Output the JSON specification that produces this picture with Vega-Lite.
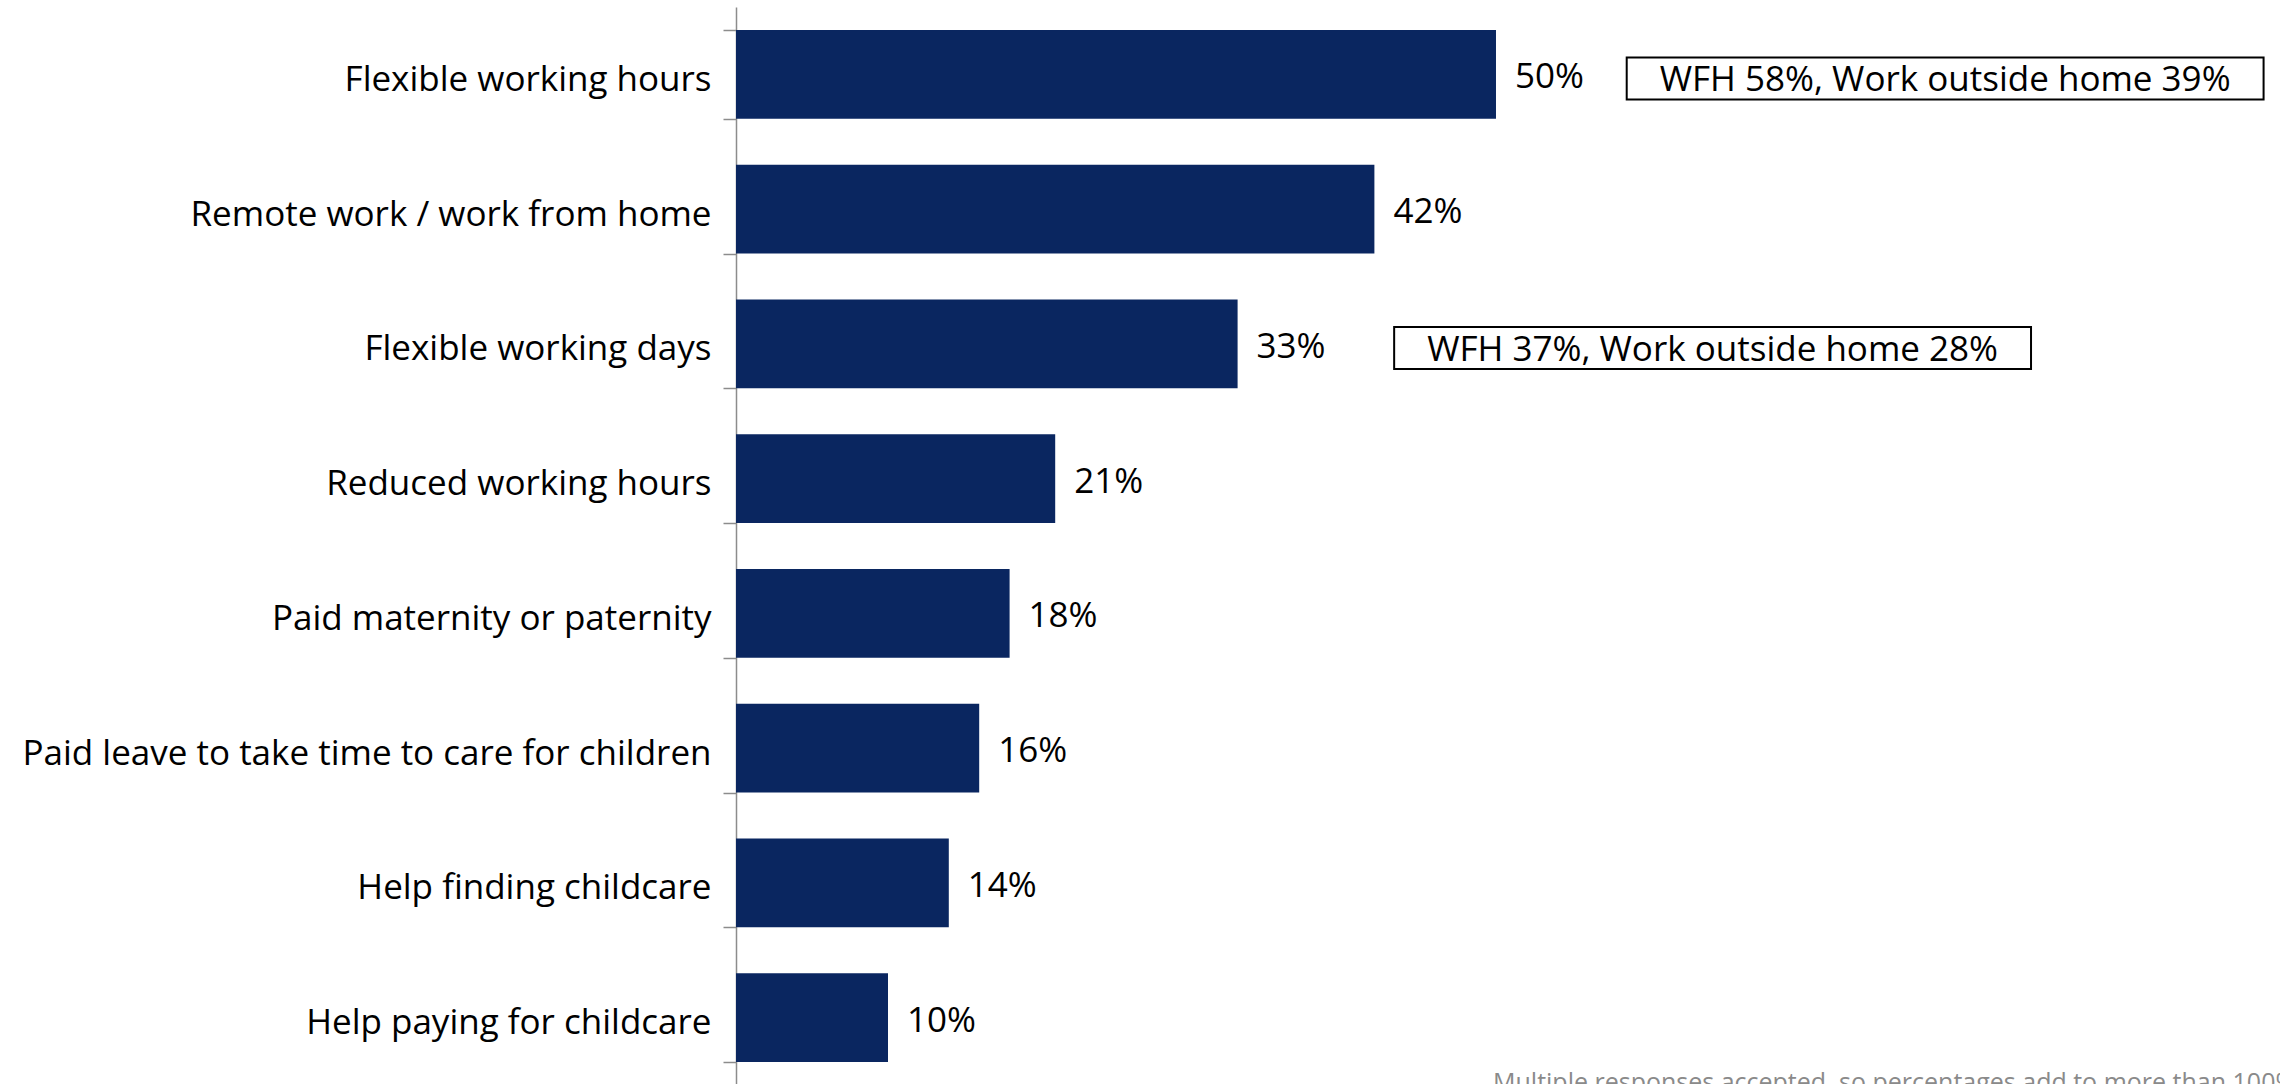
{
  "$schema": "https://vega.github.io/schema/vega-lite/v6.json",
  "width": 1544,
  "height": 1078,
  "autosize": {"type": "none"},
  "padding": {"left": 736, "top": 7, "right": 0, "bottom": 0},
  "background": "white",
  "config": {"view": {"stroke": null}, "font": "Open Sans"},
  "title": {
    "text": "Multiple responses accepted, so percentages add to more than 100%",
    "orient": "bottom",
    "anchor": "start",
    "frame": "group",
    "dx": 757,
    "offset": -14,
    "baseline": "top",
    "fontSize": 25,
    "fontWeight": "normal",
    "color": "#8a8a8a",
    "font": "Open Sans"
  },
  "datasets": {
    "bars": [
      {"item": "Flexible working hours", "pct": 0.50},
      {"item": "Remote work / work from home", "pct": 0.42},
      {"item": "Flexible working days", "pct": 0.33},
      {"item": "Reduced working hours", "pct": 0.21},
      {"item": "Paid maternity or paternity", "pct": 0.18},
      {"item": "Paid leave to take time to care for children", "pct": 0.16},
      {"item": "Help finding childcare", "pct": 0.14},
      {"item": "Help paying for childcare", "pct": 0.10}
    ],
    "notes": [
      {"item": "Flexible working hours", "note": "WFH 58%, Work outside home 39%", "start": 0.586, "end": 1.005},
      {"item": "Flexible working days", "note": "WFH 37%, Work outside home 28%", "start": 0.433, "end": 0.852}
    ]
  },
  "layer": [
    {
      "data": {"name": "bars"},
      "mark": {"type": "bar", "color": "#0a2660"},
      "encoding": {
        "y": {
          "field": "item", "type": "nominal", "sort": null,
          "scale": {"paddingInner": 0.34, "paddingOuter": 0.17},
          "axis": {
            "title": null,
            "tickBand": "extent",
            "domainColor": "#8c8c8c",
            "domainWidth": 1.5,
            "tickColor": "#8c8c8c",
            "tickWidth": 1.5,
            "tickSize": 13,
            "labelPadding": 12,
            "labelOffset": 5,
            "labelFontSize": 35,
            "labelColor": "#000000",
            "labelLimit": 900,
            "labelFont": "Open Sans"
          }
        },
        "x": {
          "field": "pct", "type": "quantitative",
          "scale": {"domain": [0, 1.0158], "nice": false, "zero": true},
          "axis": null
        }
      }
    },
    {
      "data": {"name": "bars"},
      "mark": {"type": "text", "align": "left", "baseline": "middle", "dx": 19, "dy": 3, "fontSize": 35, "color": "#000000", "font": "Open Sans"},
      "encoding": {
        "y": {"field": "item", "type": "nominal", "sort": null},
        "x": {"field": "pct", "type": "quantitative"},
        "text": {"field": "pct", "type": "quantitative", "format": ".0%"}
      }
    },
    {
      "data": {"name": "notes"},
      "mark": {"type": "bar", "fill": "white", "stroke": "#000000", "strokeWidth": 2, "height": 42, "yOffset": 4},
      "encoding": {
        "y": {"field": "item", "type": "nominal", "sort": null},
        "x": {"field": "start", "type": "quantitative"},
        "x2": {"field": "end"}
      }
    },
    {
      "data": {"name": "notes"},
      "transform": [{"calculate": "(datum.start + datum.end) / 2", "as": "mid"}],
      "mark": {"type": "text", "align": "center", "baseline": "middle", "fontSize": 35, "color": "#000000", "font": "Open Sans", "yOffset": 6},
      "encoding": {
        "y": {"field": "item", "type": "nominal", "sort": null},
        "x": {"field": "mid", "type": "quantitative"},
        "text": {"field": "note"}
      }
    }
  ]
}
